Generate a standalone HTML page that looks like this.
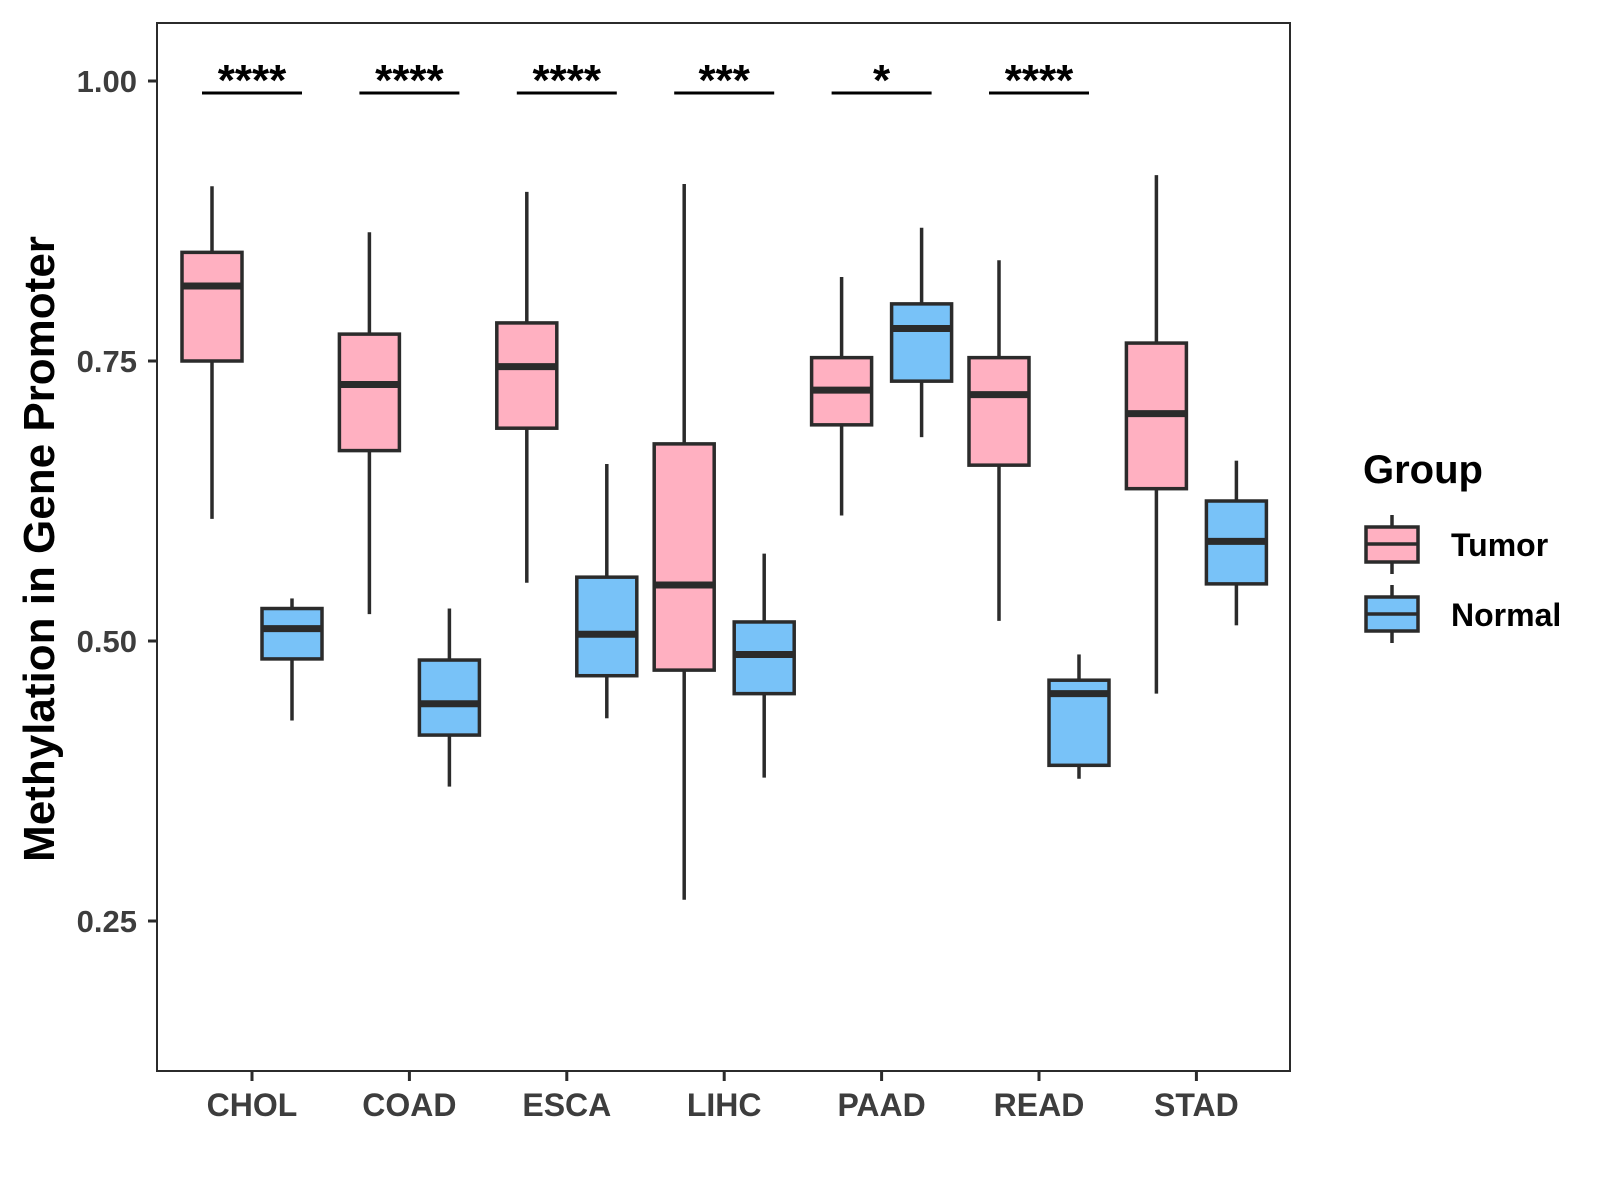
<!DOCTYPE html>
<html><head><meta charset="utf-8"><style>
html,body{margin:0;padding:0;background:#fff;}
svg{display:block;font-family:"Liberation Sans",sans-serif;}
</style></head><body>
<svg id="chart" width="1600" height="1200" viewBox="0 0 1600 1200">
<rect x="157" y="23" width="1133" height="1048" fill="#fff" stroke="#2b2b2b" stroke-width="2"/>
<g id="ticks"></g><g id="boxes"></g><g id="sig"></g>
<text transform="translate(54,549) rotate(-90)" text-anchor="middle" font-size="44" font-weight="bold" fill="#000">Methylation in Gene Promoter</text>
<g>
<text x="1363" y="483" font-size="40" font-weight="bold" fill="#000">Group</text>
<g>
<line x1="1392" y1="515" x2="1392" y2="574" stroke="#2b2b2b" stroke-width="3.5"/>
<rect x="1366" y="527" width="52" height="35" fill="#FFB0C1" stroke="#2b2b2b" stroke-width="3.5"/>
<line x1="1366" y1="544" x2="1418" y2="544" stroke="#2b2b2b" stroke-width="3.5"/>
<text x="1451" y="556" font-size="32" font-weight="bold" fill="#000">Tumor</text></g>
<g>
<line x1="1392" y1="585" x2="1392" y2="643" stroke="#2b2b2b" stroke-width="3.5"/>
<rect x="1366" y="597" width="52" height="34" fill="#78C2F8" stroke="#2b2b2b" stroke-width="3.5"/>
<line x1="1366" y1="614" x2="1418" y2="614" stroke="#2b2b2b" stroke-width="3.5"/>
<text x="1451" y="626" font-size="32" font-weight="bold" fill="#000">Normal</text></g>
</g>
</svg>
<script>
const categories=["CHOL","COAD","ESCA","LIHC","PAAD","READ","STAD"];
const tumorLow=[0.609,0.524,0.552,0.269,0.612,0.518,0.453];
const tumorQ1=[0.750,0.670,0.690,0.474,0.693,0.657,0.636];
const tumorMed=[0.817,0.729,0.745,0.550,0.724,0.720,0.703];
const tumorQ3=[0.847,0.774,0.784,0.676,0.753,0.753,0.766];
const tumorHigh=[0.906,0.865,0.901,0.908,0.825,0.840,0.916];
const normalLow=[0.429,0.370,0.431,0.378,0.682,0.377,0.514];
const normalQ1=[0.484,0.416,0.469,0.453,0.732,0.389,0.551];
const normalMed=[0.511,0.444,0.506,0.488,0.779,0.453,0.589];
const normalQ3=[0.529,0.483,0.557,0.517,0.801,0.465,0.625];
const normalHigh=[0.538,0.529,0.658,0.578,0.869,0.488,0.661];
const sigLabels=["****","****","****","***","*","****"];
const yTicks=[0.25,0.50,0.75,1.00];
const yTickLabels=["0.25","0.50","0.75","1.00"];

const NS="http://www.w3.org/2000/svg";
const yScale=v=>81+(1-v)*1120;
const xScale=i=>252+i*157.4;
function mk(tag,attrs,parent){const e=document.createElementNS(NS,tag);for(const k in attrs)e.setAttribute(k,attrs[k]);parent.appendChild(e);return e;}
const tg=document.getElementById('ticks'),bg=document.getElementById('boxes'),sg=document.getElementById('sig');
yTicks.forEach((v,i)=>{
  const l=mk('line',{x1:148,x2:157,y1:yScale(v),y2:yScale(v),stroke:'#2b2b2b','stroke-width':3},tg);
  
  
  const t=mk('text',{x:137,y:yScale(v)+11,'text-anchor':'end','font-size':31,'font-weight':'bold',fill:'#3d3d3d'},tg);
  t.textContent=yTickLabels[i];
  
  
});
categories.forEach((c,i)=>{
  const x=xScale(i);
  const l=mk('line',{x1:x,x2:x,y1:1071,y2:1081,stroke:'#2b2b2b','stroke-width':3},tg);
  
  
  const t=mk('text',{x:x,y:1116,'text-anchor':'middle','font-size':32,'font-weight':'bold',fill:'#3d3d3d'},tg);
  t.textContent=c;
  
  
});
function drawBox(cx,lo,q1,md,q3,hi,fill,name){
  const g=mk('g',{},bg);
  
  
  const w=60;
  mk('line',{x1:cx,x2:cx,y1:yScale(hi),y2:yScale(q3),stroke:'#2b2b2b','stroke-width':3.5},g);
  mk('line',{x1:cx,x2:cx,y1:yScale(q1),y2:yScale(lo),stroke:'#2b2b2b','stroke-width':3.5},g);
  mk('rect',{x:cx-w/2,y:yScale(q3),width:w,height:yScale(q1)-yScale(q3),fill:fill,stroke:'#2b2b2b','stroke-width':3.5},g);
  mk('line',{x1:cx-w/2,x2:cx+w/2,y1:yScale(md),y2:yScale(md),stroke:'#2b2b2b','stroke-width':7},g);
}
categories.forEach((c,i)=>{
  drawBox(xScale(i)-40,tumorLow[i],tumorQ1[i],tumorMed[i],tumorQ3[i],tumorHigh[i],'#FFB0C1','box-tumor-'+c.toLowerCase());
  drawBox(xScale(i)+40,normalLow[i],normalQ1[i],normalMed[i],normalQ3[i],normalHigh[i],'#78C2F8','box-normal-'+c.toLowerCase());
});
sigLabels.forEach((s,i)=>{
  const x=xScale(i);
  const l=mk('line',{x1:x-50,x2:x+50,y1:93,y2:93,stroke:'#000','stroke-width':3},sg);
  
  
  const t=mk('text',{x:x,y:95,'text-anchor':'middle','font-size':44,'font-weight':'bold',fill:'#000'},sg);
  t.textContent=s;
  
  
});
</script>
</body></html>
